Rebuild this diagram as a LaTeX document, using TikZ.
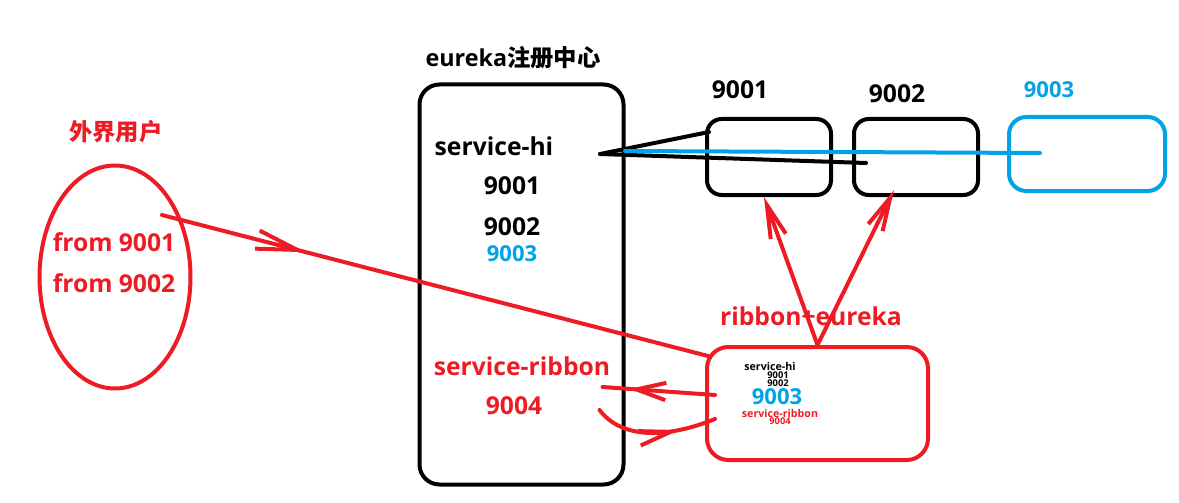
\documentclass[tikz,border=0pt]{standalone}
\usepackage{fontspec}
\setmainfont{Open Sans}
\newfontfamily\cjk{Noto Sans CJK SC}
\usetikzlibrary{arrows.meta,decorations.markings,shapes.geometric,calc}
\definecolor{pred}{RGB}{237,28,36}
\definecolor{pblue}{RGB}{0,162,232}
\begin{document}
\begin{tikzpicture}[x=0.75pt,y=-0.75pt,
  rbox/.style={draw, line width=3pt, rounded corners=#1, inner sep=0pt},
  txt/.style={inner sep=0pt, font=\bfseries\fontsize{18.5}{20}\selectfont},
  smalltxt/.style={inner sep=0pt, font=\bfseries\fontsize{#1}{#1}\selectfont},
  redline/.style={draw, color=pred, line width=3pt, line cap=round},
  blackline/.style={draw, color=black, line width=3pt, line cap=round},
  blueline/.style={draw, color=pblue, line width=3pt, line cap=round},
  markbarb/.style args={#1/#2/#3}{postaction={decorate}, decoration={markings,
     mark=at position #1 with {\arrow{Straight Barb[length=#2pt,width=#3pt]}}}},
  upbarb/.style={-{Straight Barb[length=25pt,width=12pt]}}
]
\useasboundingbox (0,0) rectangle (1179,503);

% boxes
\node[rbox=15pt, minimum width=153pt, minimum height=300pt] (eu) at (521.5,284.5) {};
\node[rbox=11pt, minimum width=93pt, minimum height=57pt] (b1) at (769,157) {};
\node[rbox=11pt, minimum width=93pt, minimum height=57pt] (b2) at (916,157) {};
\node[rbox=13pt, minimum width=117pt, minimum height=55.5pt, color=pblue] (b3) at (1087,154) {};
\node[rbox=16pt, minimum width=165.75pt, minimum height=84.75pt, color=pred] (rib) at (817.5,403.5) {};
\node[draw=pred, line width=3pt, ellipse, minimum width=113.25pt, minimum height=167.25pt, inner sep=0pt] (user) at (115,277) {};

% titles
\node[smalltxt=17.5] (title) at (513,58) {eureka\cjk 注册中心};
\node[smalltxt=17.5, text=pred] (waijie) at (116,132) {\cjk 外界用户};
\node[txt] (t9001) at (740,90) {9001};
\node[txt] (t9002) at (897,94) {9002};
\node[smalltxt=16.5, text=pblue] (t9003) at (1049,90) {9003};
\node[txt, text=pred] (ribtitle) at (811,316) {ribbon+eureka};

% user texts
\node[txt, text=pred] (from1) at (114,242) {from 9001};
\node[txt, text=pred] (from2) at (114,283) {from 9002};

% eureka texts
\node[txt] (svchi) at (494,146) {service-hi};
\node[txt] (e9001) at (512,186) {9001};
\node[txt] (e9002) at (512,227) {9002};
\node[smalltxt=16.5, text=pblue] (e9003) at (512,254) {9003};
\node[txt, text=pred] (svcrib) at (522,366) {service-ribbon};
\node[txt, text=pred] (e9004) at (514,406) {9004};

% ribbon inner texts
\node[smalltxt=8] (r1) at (770,366) {service-hi};
\node[smalltxt=7] (r2) at (778,375) {9001};
\node[smalltxt=7] (r3) at (778,383) {9002};
\node[smalltxt=16.5, text=pblue] (r4) at (777,397) {9003};
\node[smalltxt=8, text=pred] (r5) at (780,413) {service-ribbon};
\node[smalltxt=7, text=pred] (r6) at (780,421.5) {9004};

% service-hi registration lines
\coordinate (hi) at (600,154);
\coordinate (hib) at (625,151);
\draw[blackline] (hi) -- ($(b1.west)+(4,-25)$);
\draw[blackline] (hi) -- ($(b2.west)+(14,6)$);
\draw[blueline] (hib) -- ($(b3.west)+(33,-1)$);

% user to ribbon
\coordinate (ustart) at ($(user.center)+(47,-62)$);
\draw[redline, markbarb=0.264/31/14] (ustart) -- ($(rib.north west)+(3,11)$);

% ribbon to instances
\draw[redline, upbarb] (rib.north) -- ($(b1.south)+(-5,0)$);
\draw[redline, upbarb] (rib.north) -- ($(b2.south)+(-22,-7)$);

% ribbon <-> eureka
\draw[redline, markbarb=0.76/22/13] ($(rib.west)+(10,-8.5)$) -- ($(eu.east)+(-23,102.5)$);
\draw[redline, markbarb=0.7/24/11] ($(eu.east)+(-26,125.5)$) .. controls ($(eu.east)+(-3,155.5)$) and ($(rib.west)+(-37,34.5)$) .. ($(rib.west)+(10,15.5)$);

\end{tikzpicture}
\end{document}
